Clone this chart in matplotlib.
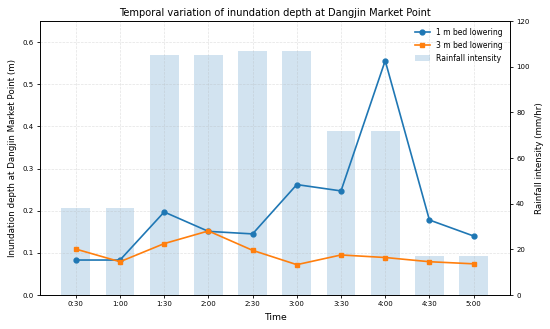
import numpy as np
import matplotlib
matplotlib.use("Agg")
import matplotlib.pyplot as plt

times = ["0:30", "1:00", "1:30", "2:00", "2:30", "3:00", "3:30", "4:00", "4:30", "5:00"]
depth_1m = [0.083, 0.083, 0.197, 0.151, 0.145, 0.262, 0.247, 0.556, 0.178, 0.140]
depth_3m = [0.109, 0.079, 0.122, 0.152, 0.106, 0.072, 0.095, 0.089, 0.079, 0.074]
rainfall = [38, 38, 105, 105, 107, 107, 72, 72, 17, 17]

x = np.arange(len(times))

fig, ax = plt.subplots(figsize=(5.5, 3.29), dpi=100)
ax2 = ax.twinx()

# bars on the twin axis, lines on top
bars = ax2.bar(x, rainfall, width=0.65, color="#1f77b4", alpha=0.2, label="Rainfall intensity")
l1, = ax.plot(x, depth_1m, "-o", color="#1f77b4", markersize=3.5, linewidth=1.2, label="1 m bed lowering")
l2, = ax.plot(x, depth_3m, "-s", color="#ff7f0e", markersize=3.5, linewidth=1.2, label="3 m bed lowering")
ax.set_zorder(ax2.get_zorder() + 1)
ax.patch.set_visible(False)

ax.set_xlim(-0.81, 9.82)
ax.set_ylim(0, 0.65)
ax2.set_ylim(0, 120)
ax.set_xticks(x)
ax.set_xticklabels(times)
ax.grid(True, linestyle="--", alpha=0.35, linewidth=0.5)

ax.set_xlabel("Time", fontsize=6.7)
ax.set_ylabel("Inundation depth at Dangjin Market Point (m)", fontsize=6.3)
ax2.set_ylabel("Rainfall intensity (mm/hr)", fontsize=6.3)
ax.set_title("Temporal variation of inundation depth at Dangjin Market Point", fontsize=7.1, pad=4)
for a in (ax, ax2):
    a.tick_params(labelsize=5, length=2.5, width=0.6, pad=2)
    for s in a.spines.values():
        s.set_linewidth(0.6)

ax.legend([l1, l2, bars], ["1 m bed lowering", "3 m bed lowering", "Rainfall intensity"],
          loc="upper right", fontsize=5.5, frameon=False)

plt.subplots_adjust(left=0.0727, right=0.927, top=0.936, bottom=0.1033)
plt.savefig("out.png", dpi=100)
